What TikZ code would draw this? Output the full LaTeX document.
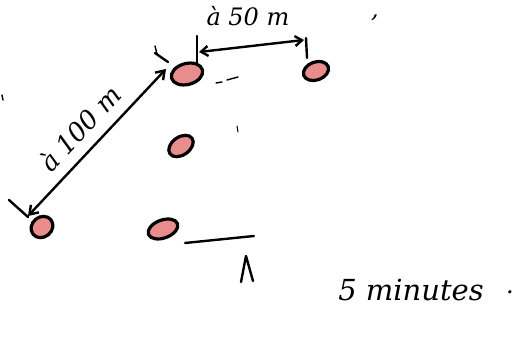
\documentclass[tikz,border=0pt]{standalone}
\usepackage{fontspec}
\setmainfont{DejaVu Serif}
\usetikzlibrary{arrows.meta,shapes.geometric}
\definecolor{spot}{RGB}{232,140,140}
\tikzset{
  spotnode/.style={ellipse, draw=black, line width=3.2pt, fill=spot, inner sep=0pt},
  pen/.style={draw=black, line width=2.4pt, line cap=round, line join=round},
  hand/.style={font=\itshape\fontsize{24}{28}\selectfont, text=black, inner sep=0pt},
}
\begin{document}
\begin{tikzpicture}[x=1pt,y=-1pt]
\useasboundingbox (0,0) rectangle (515,337);
% spots
\node[spotnode, minimum width=32pt, minimum height=21pt, rotate=15] (tm) at (187,74) {};
\node[spotnode, minimum width=26pt, minimum height=18pt, rotate=20] (tr) at (316,71) {};
\node[spotnode, minimum width=27pt, minimum height=18pt, rotate=35] (mm) at (181,146) {};
\node[spotnode, minimum width=23pt, minimum height=20pt, rotate=40] (bl) at (42,227) {};
\node[spotnode, minimum width=31pt, minimum height=18pt, rotate=20] (bm) at (163,229) {};
% 100 m arrow
\coordinate (a1) at (28,216);
\coordinate (a2) at (166,69);
\draw[pen, {Straight Barb[length=8pt,width=11pt]}-{Straight Barb[length=8pt,width=11pt]}] (a1) -- (a2);
\coordinate (t1a) at (9,200);
\coordinate (t1b) at (28,217);
\draw[pen] (t1a) -- (t1b);
\coordinate (t2a) at (155,53);
\coordinate (t2b) at (168,62);
\draw[pen] (t2a) -- (t2b);
\coordinate (t2c) at (155,46);
\draw[pen, line width=1.4pt] (t2c) -- (157,54);
\node[hand, rotate=47, font=\itshape\fontsize{26}{30}\selectfont] (l100) at (80,128) {à 100 m};
% 50 m arrow
\coordinate (b1) at (199,52);
\coordinate (b2) at (304,40);
\draw[pen, {Straight Barb[length=7pt,width=10pt]}-{Straight Barb[length=7pt,width=10pt]}] (b1) -- (b2);
\coordinate (v1a) at (197,36);
\coordinate (v1b) at (197,64);
\draw[pen] (v1a) -- (v1b);
\coordinate (v2a) at (306,38);
\coordinate (v2b) at (307,58);
\draw[pen] (v2a) -- (v2b);
\node[hand] (l50) at (248,16) {à 50 m};
\node[hand] (tick1) at (375,18) {,};
% small marks
\draw[pen, line width=1.4pt] (216,83) -- (222,82);
\draw[pen, line width=1.4pt] (227,80) -- (238,77);
\draw[pen, line width=1pt] (237,126) -- (238,132);
\draw[pen, line width=1.4pt] (2,95) -- (3,100);
% bottom mark
\coordinate (m1) at (185,243);
\coordinate (m2) at (254,236);
\draw[pen] (m1) -- (m2);
\draw[pen] (241,282) -- (246,256) -- (253,281);
% 5 minutes
\node[hand, font=\itshape\fontsize{29}{34}\selectfont] (five) at (411,290) {5 minutes};
\node[hand] (dot) at (510,292) {.};
\end{tikzpicture}
\end{document}
